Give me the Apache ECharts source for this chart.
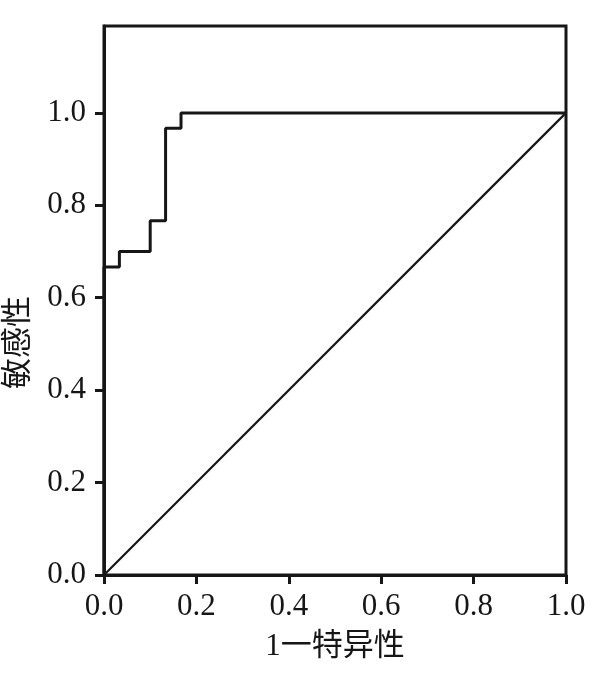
<!DOCTYPE html>
<html>
<head>
<meta charset="utf-8">
<script src="https://cdn.jsdelivr.net/npm/echarts@6/dist/echarts.min.js"></script>
<style>html,body{margin:0;padding:0;background:#fff}#c{width:605px;height:682px}</style>
</head>
<body>
<div id="c"></div>
<script>
// ROC curve points (1 - specificity, sensitivity)
const fpr = [0, 0, 0.0333, 0.1, 0.1333, 0.1667, 1.0];
const tpr = [0, 0.6667, 0.7, 0.7667, 0.9667, 1.0, 1.0];
// reference diagonal
const refX = [0, 1];
const refY = [0, 1];
const tickVals = [0, 0.2, 0.4, 0.6, 0.8, 1.0];
const xName = '1一特异性';
const yName = '敏感性';

const chart = echarts.init(document.getElementById('c'), null, {renderer: 'canvas'});
const ink = '#161616';
const serif = '"Liberation Serif", "Times New Roman", serif';
const cjk = '"Liberation Serif", "Noto Sans CJK SC", serif';
chart.setOption({
  animation: false,
  grid: {left: 104, top: 26, right: 39, bottom: 107, containLabel: false, outerBoundsMode: 'none',
         show: true, borderColor: ink, borderWidth: 3, backgroundColor: 'transparent'},
  xAxis: {
    type: 'value', min: 0, max: 1, interval: 0.2,
    name: xName, nameLocation: 'middle', nameGap: 56,
    nameTextStyle: {fontFamily: cjk, fontSize: 31, color: ink},
    axisLine: {show: true, onZero: false, lineStyle: {color: ink, width: 3}},
    axisTick: {show: true, length: 9, lineStyle: {color: ink, width: 3}},
    axisLabel: {fontFamily: serif, fontSize: 31, color: ink, margin: 16, formatter: v => v.toFixed(1)},
    splitLine: {show: false}
  },
  yAxis: {
    type: 'value', min: 0, max: 1.188,
    name: yName, nameLocation: 'middle', nameGap: 70, nameRotate: 90,
    nameTextStyle: {fontFamily: cjk, fontSize: 31, color: ink, padding: [0, 84, 0, 0]},
    axisLine: {show: true, onZero: false, lineStyle: {color: ink, width: 3}},
    axisTick: {show: true, length: 9, customValues: tickVals, lineStyle: {color: ink, width: 3}},
    axisLabel: {fontFamily: serif, fontSize: 31, color: ink, margin: 18, customValues: tickVals, formatter: v => v.toFixed(1)},
    splitLine: {show: false}
  },
  series: [
    {
      type: 'line', step: 'end', symbol: 'none',
      data: fpr.map((x, i) => [x, tpr[i]]),
      lineStyle: {color: ink, width: 3}, z: 3
    },
    {
      type: 'line', symbol: 'none',
      data: refX.map((x, i) => [x, refY[i]]),
      lineStyle: {color: ink, width: 2.2}, z: 2
    }
  ]
});
</script>
</body>
</html>
